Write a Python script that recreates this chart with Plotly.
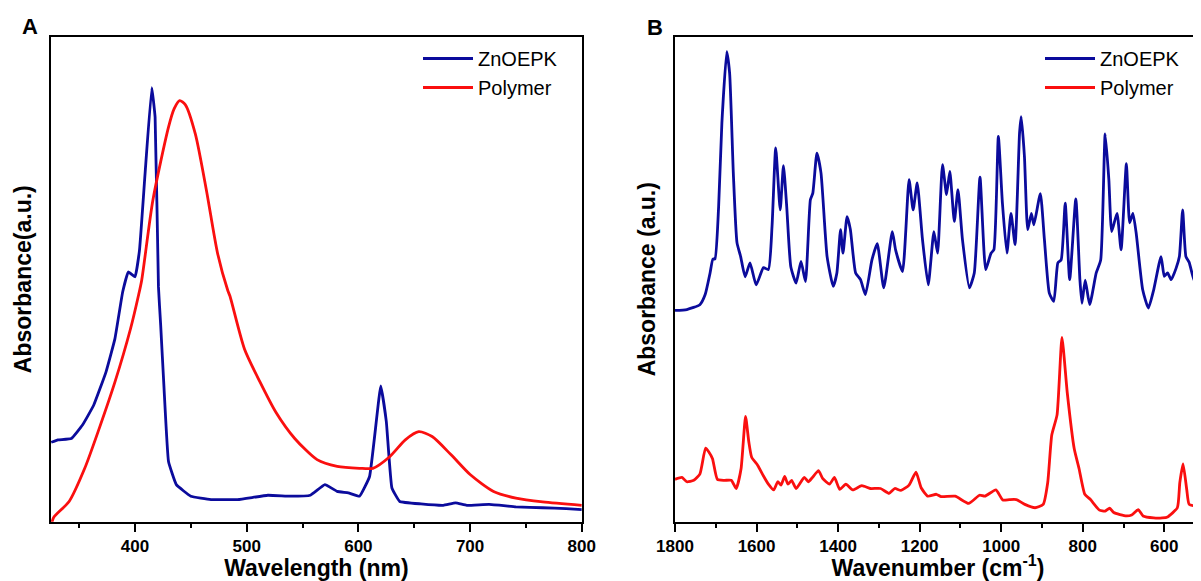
import plotly.graph_objects as go

# ---------------- Panel A : UV-vis ----------------
uv_zn_wl = [325, 331, 343, 353, 363, 374, 382, 389, 394, 400, 404, 409, 415, 418, 421,
            423, 426, 430, 437, 450, 468, 492, 519, 539, 557, 570, 581, 591, 601, 610,
            620, 625, 630, 637, 656, 676, 687, 697, 717, 741, 765, 786, 800]
uv_zn_abs = [0.157, 0.162, 0.165, 0.193, 0.234, 0.303, 0.372, 0.470, 0.511, 0.501, 0.556,
             0.715, 0.894, 0.833, 0.480, 0.400, 0.269, 0.117, 0.069, 0.045, 0.038, 0.038,
             0.047, 0.045, 0.047, 0.069, 0.055, 0.052, 0.045, 0.086, 0.274, 0.200, 0.062,
             0.034, 0.029, 0.026, 0.031, 0.026, 0.028, 0.023, 0.021, 0.019, 0.017]

uv_pol_wl = [325, 327, 341, 355, 368, 382, 396, 403, 406, 416, 430, 435, 440, 445, 454,
             464, 474, 483, 485, 498, 512, 526, 543, 563, 581, 601, 613, 628, 642, 654,
             666, 683, 700, 721, 741, 765, 800]
uv_pol_abs = [-0.02, 0.0, 0.034, 0.103, 0.186, 0.282, 0.393, 0.461, 0.494, 0.660, 0.812,
              0.850, 0.867, 0.859, 0.798, 0.680, 0.549, 0.473, 0.461, 0.351, 0.282, 0.220,
              0.165, 0.121, 0.107, 0.103, 0.103, 0.127, 0.162, 0.179, 0.169, 0.131, 0.090,
              0.055, 0.041, 0.033, 0.026]

# ---------------- Panel B : FT-IR ----------------
ir_zn_wn = [1800, 1771, 1739, 1726, 1714, 1707, 1702, 1693, 1685, 1673, 1666, 1657, 1648,
            1639, 1628, 1616, 1601, 1583, 1571, 1562, 1553, 1542, 1534, 1526, 1516, 1503,
            1491, 1480, 1468, 1462, 1452, 1442, 1427, 1412, 1403, 1394, 1388, 1378, 1370,
            1357, 1345, 1333, 1317, 1304, 1288, 1267, 1259, 1242, 1226, 1216, 1206, 1193,
            1179, 1165, 1156, 1144, 1134, 1126, 1115, 1106, 1095, 1078, 1066, 1052, 1038,
            1025, 1018, 1007, 997, 986, 976, 966, 955, 951, 943, 935, 926, 920, 904, 894,
            882, 871, 861, 853, 843, 832, 817, 807, 802, 794, 783, 767, 756, 745, 736, 729,
            716, 706, 693, 685, 677, 669, 653, 639, 626, 608, 600, 592, 583, 571, 563, 555,
            547, 539, 526, 517, 510]
ir_zn_abs = [0.431, 0.433, 0.443, 0.464, 0.509, 0.538, 0.538, 0.647, 0.821, 0.969, 0.924,
             0.717, 0.572, 0.543, 0.501, 0.530, 0.484, 0.520, 0.516, 0.606, 0.769, 0.640,
             0.732, 0.647, 0.522, 0.488, 0.533, 0.491, 0.661, 0.675, 0.758, 0.717, 0.543,
             0.481, 0.509, 0.599, 0.550, 0.626, 0.600, 0.509, 0.495, 0.464, 0.536, 0.570,
             0.478, 0.595, 0.557, 0.512, 0.703, 0.640, 0.696, 0.578, 0.484, 0.595, 0.550,
             0.734, 0.672, 0.720, 0.616, 0.682, 0.578, 0.478, 0.509, 0.708, 0.516, 0.550,
             0.557, 0.793, 0.654, 0.550, 0.633, 0.568, 0.800, 0.834, 0.751, 0.599, 0.633,
             0.609, 0.674, 0.578, 0.467, 0.450, 0.530, 0.536, 0.654, 0.495, 0.663, 0.495,
             0.446, 0.494, 0.443, 0.509, 0.536, 0.798, 0.703, 0.595, 0.633, 0.557, 0.736,
             0.613, 0.633, 0.592, 0.474, 0.436, 0.474, 0.543, 0.502, 0.509, 0.495, 0.519,
             0.543, 0.640, 0.543, 0.531, 0.491, 0.550, 0.588]

ir_pol_wn = [1800, 1783, 1771, 1754, 1739, 1725, 1717, 1708, 1696, 1679, 1662, 1650, 1638,
             1627, 1619, 1612, 1597, 1583, 1571, 1558, 1548, 1540, 1531, 1523, 1514, 1503,
             1483, 1473, 1463, 1448, 1438, 1421, 1409, 1396, 1381, 1364, 1342, 1321, 1296,
             1275, 1261, 1246, 1226, 1209, 1196, 1180, 1159, 1147, 1113, 1080, 1053, 1040,
             1013, 996, 980, 963, 942, 917, 897, 886, 876, 863, 851, 838, 821, 809, 795, 781,
             759, 745, 734, 724, 693, 680, 664, 652, 626, 605, 592, 568, 562, 554, 545, 539,
             518, 510]
ir_pol_abs = [0.080, 0.084, 0.075, 0.078, 0.091, 0.145, 0.137, 0.123, 0.080, 0.078, 0.078,
              0.061, 0.102, 0.211, 0.158, 0.126, 0.109, 0.087, 0.070, 0.058, 0.075, 0.068,
              0.086, 0.070, 0.078, 0.061, 0.084, 0.075, 0.084, 0.098, 0.082, 0.070, 0.084,
              0.059, 0.070, 0.058, 0.067, 0.061, 0.061, 0.051, 0.061, 0.057, 0.068, 0.095,
              0.062, 0.045, 0.049, 0.044, 0.045, 0.030, 0.047, 0.045, 0.058, 0.037, 0.038,
              0.038, 0.028, 0.021, 0.028, 0.073, 0.172, 0.214, 0.375, 0.260, 0.144, 0.102,
              0.049, 0.038, 0.016, 0.014, 0.020, 0.011, 0.004, 0.006, 0.017, 0.004, 0.000,
              0.000, 0.002, 0.021, 0.073, 0.112, 0.059, 0.028, 0.024, 0.028]

series_names = ["ZnOEPK", "Polymer"]
uv_ticks = [400, 500, 600, 700, 800]
ir_ticks = [1800, 1600, 1400, 1200, 1000, 800, 600]

BLUE = "#0b0b9c"
RED = "#fa0f0f"
FONT = "Liberation Sans, Arial, sans-serif"
OFF = 8                      # page body margin of the browser
W, H = 1201 - OFF, 581 - OFF


def px(x):
    return (x - OFF) / W


def py(y):
    return 1 - (y - OFF) / H


fig = go.Figure()
fig.add_trace(go.Scatter(x=uv_zn_wl, y=uv_zn_abs, name=series_names[0], mode="lines",
                         line=dict(color=BLUE, width=2.8, shape="spline", smoothing=0.3),
                         xaxis="x", yaxis="y", legend="legend"))
fig.add_trace(go.Scatter(x=uv_pol_wl, y=uv_pol_abs, name=series_names[1], mode="lines",
                         line=dict(color=RED, width=2.8, shape="spline", smoothing=0.7),
                         xaxis="x", yaxis="y", legend="legend"))
fig.add_trace(go.Scatter(x=ir_zn_wn, y=ir_zn_abs, name=series_names[0], mode="lines",
                         line=dict(color=BLUE, width=2.8, shape="spline", smoothing=0.5),
                         xaxis="x2", yaxis="y2", legend="legend2"))
fig.add_trace(go.Scatter(x=ir_pol_wn, y=ir_pol_abs, name=series_names[1], mode="lines",
                         line=dict(color=RED, width=2.8, shape="spline", smoothing=0.5),
                         xaxis="x2", yaxis="y2", legend="legend2"))

ydom = [py(521.7), py(36.7)]
tickfont = dict(family=FONT, size=17, color="black", weight="bold")
titlefont = dict(family=FONT, size=23, color="black", weight="bold")
common_x = dict(showline=True, linewidth=2, linecolor="black", ticks="outside", ticklen=8,
                tickwidth=2, tickcolor="black", showgrid=False, zeroline=False,
                tickfont=tickfont, mirror=True, automargin=False)
common_y = dict(showline=True, linewidth=2, linecolor="black", ticks="", showticklabels=False,
                showgrid=False, zeroline=False, range=[-0.008, 1.0], automargin=False)

legend_common = dict(font=dict(family=FONT, size=20, color="black"), bgcolor="rgba(0,0,0,0)",
                     itemwidth=50, tracegroupgap=0, xanchor="left", yanchor="top")

fig.update_layout(
    template="none",
    width=W, height=H,
    margin=dict(l=0, r=0, t=0, b=0, autoexpand=False),
    paper_bgcolor="white", plot_bgcolor="white",
    font=dict(family=FONT, color="black"),
    xaxis=dict(common_x, domain=[px(51), px(581.8)], range=[324.8, 800], tickvals=uv_ticks,
               minor=dict(ticks="outside", ticklen=4, tickwidth=2, tickcolor="black", dtick=50, tick0=0),
               title=dict(text="Wavelength (nm)", font=titlefont, standoff=5), anchor="y"),
    yaxis=dict(common_y, domain=ydom, mirror=True, anchor="x",
               title=dict(text="Absorbance(a.u.)", font=titlefont, standoff=11)),
    xaxis2=dict(common_x, domain=[px(675), 1.0], range=[1800, 510], tickvals=ir_ticks,
                minor=dict(ticks="outside", ticklen=4, tickwidth=2, tickcolor="black", dtick=100, tick0=0),
                title=dict(text="Wavenumber (cm<sup>-1</sup>)", font=titlefont, standoff=5), anchor="y2"),
    yaxis2=dict(common_y, domain=ydom, mirror=False, anchor="x2",
                title=dict(text="Absorbance (a.u.)", font=titlefont, standoff=11)),
    legend=dict(legend_common, x=px(418), y=py(39)),
    legend2=dict(legend_common, x=px(1040), y=py(39)),
    annotations=[
        dict(text="<b>A</b>", x=px(30), y=py(26), xref="paper", yref="paper",
             xanchor="center", yanchor="middle",
             showarrow=False, font=dict(family=FONT, size=22, color="black")),
        dict(text="<b>B</b>", x=px(655), y=py(27), xref="paper", yref="paper",
             xanchor="center", yanchor="middle",
             showarrow=False, font=dict(family=FONT, size=22, color="black")),
    ],
)

fig.write_html("out.html")
